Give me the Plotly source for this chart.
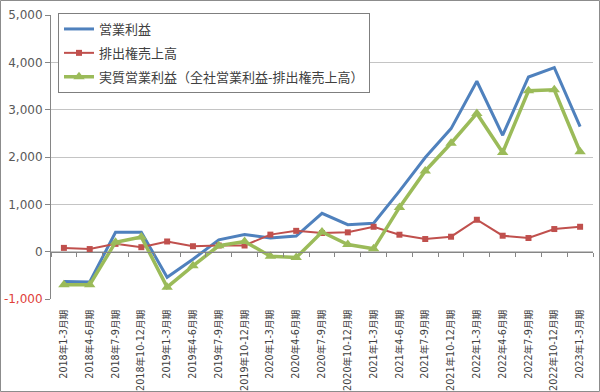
import plotly.graph_objects as go

categories = ["2018年1-3月期", "2018年4-6月期", "2018年7-9月期", "2018年10-12月期",
              "2019年1-3月期", "2019年4-6月期", "2019年7-9月期", "2019年10-12月期",
              "2020年1-3月期", "2020年4-6月期", "2020年7-9月期", "2020年10-12月期",
              "2021年1-3月期", "2021年4-6月期", "2021年7-9月期", "2021年10-12月期",
              "2022年1-3月期", "2022年4-6月期", "2022年7-9月期", "2022年10-12月期",
              "2023年1-3月期"]
operating_profit = [-630, -640, 410, 410, -540, -160, 250, 360, 290, 330, 810,
                    570, 600, 1280, 1990, 2600, 3600, 2460, 3690, 3890, 2640]
emission_sales = [80, 55, 165, 95, 215, 115, 130, 130, 360, 440, 395,
                  408, 526, 358, 267, 316, 674, 337, 288, 478, 526]
real_profit = [-700, -700, 200, 310, -750, -300, 125, 215, -95, -125, 415,
               150, 60, 935, 1705, 2290, 2920, 2095, 3400, 3420, 2110]
series_names = ["営業利益", "排出権売上高", "実質営業利益（全社営業利益-排出権売上高）"]
y_ticks = [-1000, 0, 1000, 2000, 3000, 4000, 5000]

W, H = 600, 392
ML, MR, MT, MB = 51, 7, 15, 93
PW, PH = W - ML - MR, H - MT - MB
y_min, y_max = -1000, 5000

x = list(range(len(categories)))
fig = go.Figure()
fig.add_trace(go.Scatter(x=x, y=operating_profit, name=series_names[0], mode="lines",
                         line=dict(color="#4F81BD", width=3), legendgroup="a"))
fig.add_trace(go.Scatter(x=x, y=emission_sales, name=series_names[1], mode="lines+markers",
                         line=dict(color="#C0504D", width=2),
                         marker=dict(symbol="square", size=6, color="#C0504D"), legendgroup="b"))
fig.add_trace(go.Scatter(x=x, y=real_profit, name=series_names[2], mode="lines+markers",
                         line=dict(color="#9BBB59", width=3.5),
                         marker=dict(symbol="triangle-up", size=10, color="#9BBB59"), legendgroup="c"))

ticktext = []
for v in y_ticks:
    s = f"{v:,}"
    if v < 0:
        s = f'<span style="color:#E0403A">{s}</span>'
    ticktext.append(s)

boundaries = [i - 0.5 for i in range(len(categories) + 1)]

fig.update_layout(
    width=W, height=H,
    margin=dict(l=ML, r=MR, t=MT, b=MB, autoexpand=False),
    paper_bgcolor="white", plot_bgcolor="white",
    font=dict(family="Noto Sans CJK JP, DejaVu Sans", color="#404040"),
    showlegend=True,
    legend=dict(x=7 / PW, y=1 + 2 / PH, xanchor="left", yanchor="top",
                bgcolor="white", bordercolor="#7F7F7F", borderwidth=1,
                font=dict(size=13, color="#404040", family="Noto Sans CJK JP"),
                tracegroupgap=4, itemwidth=30),
    xaxis=dict(range=[-0.5, len(categories) - 0.5], tickmode="array", tickvals=x,
               ticktext=categories, tickangle=-90, showgrid=False, zeroline=False,
               showline=False, ticks="outside", ticklen=6, tickcolor="rgba(0,0,0,0)",
               automargin=False,
               tickfont=dict(size=9.6, family="DejaVu Sans, Noto Sans CJK JP", color="#404040")),
    xaxis2=dict(overlaying="x", matches="x", anchor="free",
                position=(0 - y_min) / (y_max - y_min),
                range=[-0.5, len(categories) - 0.5], tickmode="array", tickvals=boundaries,
                showticklabels=False, ticks="outside", ticklen=4, tickcolor="#868686",
                showline=True, linecolor="#868686", linewidth=1.2, showgrid=False,
                zeroline=False, automargin=False),
    yaxis=dict(range=[y_min, y_max], tickmode="array", tickvals=y_ticks, ticktext=ticktext,
               showgrid=True, gridcolor="#C4C4C4", gridwidth=1, zeroline=False,
               showline=True, linecolor="#868686", ticks="outside", ticklen=5,
               tickcolor="#868686", automargin=False,
               tickfont=dict(size=12, family="DejaVu Sans", color="#595959")),
    shapes=[dict(type="rect", xref="paper", yref="paper",
                 x0=-(ML - 0.5) / PW, x1=1 + (MR - 0.5) / PW,
                 y0=-(MB - 0.5) / PH, y1=1 + (MT - 0.5) / PH,
                 line=dict(color="#8C8C8C", width=1), layer="below")],
)
fig.add_trace(go.Scatter(x=[x[0]], y=[0], xaxis="x2", mode="markers",
                         marker=dict(opacity=0), showlegend=False, hoverinfo="skip"))

fig.write_html("out.html", config={"displayModeBar": False},
               post_script="document.body.style.margin='0';document.body.style.overflow='hidden';")
